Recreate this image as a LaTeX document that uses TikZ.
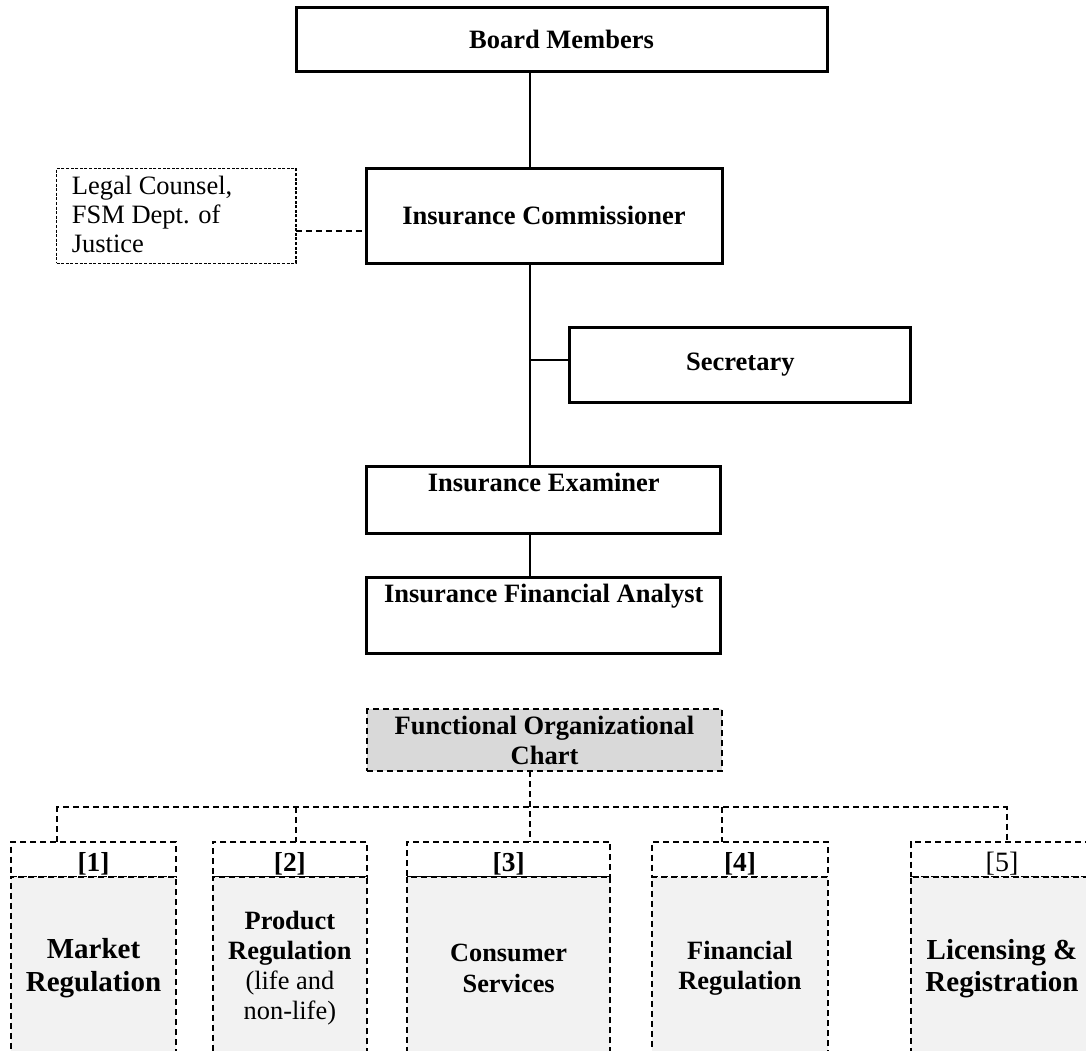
\documentclass[tikz,border=0pt]{standalone}
\usepackage{fontspec}
\setmainfont{Liberation Serif}
\definecolor{funcgray}{HTML}{D9D9D9}
\definecolor{bodygray}{HTML}{F2F2F2}
\begin{document}
\begin{tikzpicture}[x=1pt,y=-1pt,
  solidbox/.style={draw, line width=3pt, inner sep=0pt, outer sep=0pt},
  conn/.style={line width=2pt},
  dconn/.style={line width=2pt, dash pattern=on 6pt off 4pt},
  legalbox/.style={draw, line width=1.6pt, dash pattern=on 3pt off 1.6pt, inner sep=0pt, outer sep=0pt},
  bigfont/.style={font=\fontsize{26.5}{29.5}\selectfont\bfseries},
  headbox/.style={draw, fill=white, line width=1.8pt, dash pattern=on 6pt off 4pt, minimum height=35pt, inner sep=0pt, outer sep=0pt, text height=25pt, text depth=0pt},
  bodybox/.style={draw, fill=bodygray, line width=1.8pt, dash pattern=on 6pt off 4pt, minimum height=183.3pt, inner sep=0pt, outer sep=0pt, align=center},
  boldhead/.style={font=\fontsize{27.4}{30}\selectfont\bfseries},
  plainhead/.style={font=\fontsize{28}{30}\selectfont},
]
\useasboundingbox (0,0) rectangle (1086,1050);
\clip (0,0) rectangle (1086,1050);

% top chain
\node[solidbox, minimum width=531pt, minimum height=64.4pt, bigfont] (board) at (561.5,39.5) {Board Members};
\node[solidbox, minimum width=356pt, minimum height=95pt, bigfont] (comm) at (544,215.8) {Insurance Commissioner};
\node[legalbox, minimum width=239.3pt, minimum height=95pt] (legal) at (176.3,215.8) {};
\node[anchor=north west, font=\fontsize{26.5}{29}\selectfont, align=left, inner sep=0pt] (legalT) at ([xshift=15pt,yshift=-7.6pt]legal.north west) {Legal Counsel,\\FSM Dept. of\\Justice};
\node[solidbox, minimum width=340.7pt, minimum height=74.6pt, bigfont] (sec) at (740.3,365) {Secretary};
\node[solidbox, minimum width=354.3pt, minimum height=67.3pt] (exam) at (543.8,499.7) {};
\node[anchor=base, bigfont, inner sep=0pt] (examT) at ([yshift=-25.7pt]exam.north) {Insurance Examiner};
\node[solidbox, minimum width=354.3pt, minimum height=75.6pt] (anal) at (543.8,615.5) {};
\node[anchor=base, bigfont, inner sep=0pt] (analT) at ([yshift=-25pt]anal.north) {Insurance Financial Analyst};

\coordinate (tx) at (530,0);
\coordinate (secJ) at (530,360);
\coordinate (legY) at (0,231);
\draw[conn] (board.south -| tx) -- (comm.north -| tx);
\draw[conn] (comm.south -| tx) -- (exam.north -| tx);
\draw[conn] (exam.south -| tx) -- (anal.north -| tx);
\draw[conn] (secJ) -- (secJ -| sec.west);
\draw[dconn] (legal.east |- legY) -- (comm.west |- legY);

% functional chart
\node[draw, fill=funcgray, line width=1.8pt, dash pattern=on 6pt off 4pt, minimum width=355pt, minimum height=61.7pt, bigfont, align=center, inner sep=0pt, outer sep=0pt] (func) at (544.5,740.2) {Functional Organizational\\Chart};

% bottom boxes
\node[headbox, minimum width=165pt, boldhead] (h1) at (93.5,859.2) {[1]};
\node[bodybox, minimum width=165pt, font=\fontsize{29}{33.3}\selectfont\bfseries] (b1) at (93.5,968.35) {Market\\Regulation};
\node[headbox, minimum width=154.3pt, boldhead] (h2) at (289.85,859.2) {[2]};
\node[bodybox, minimum width=154.3pt, font=\fontsize{26.4}{30}\selectfont] (b2) at (289.85,968.35) {\textbf{Product}\\\textbf{Regulation}\\(life and\\non-life)};
\node[headbox, minimum width=203.3pt, boldhead] (h3) at (508.65,859.2) {[3]};
\node[bodybox, minimum width=203.3pt, font=\fontsize{26.3}{30.7}\selectfont\bfseries] (b3) at (508.65,968.35) {Consumer\\Services};
\node[headbox, minimum width=176pt, boldhead] (h4) at (740,859.2) {[4]};
\node[bodybox, minimum width=176pt, font=\fontsize{26.4}{30.7}\selectfont\bfseries] (b4) at (740,968.35) {Financial\\Regulation};
\node[headbox, minimum width=182.6pt, plainhead] (h5) at (1002,859.2) {[5]};
\node[bodybox, minimum width=182.6pt, font=\fontsize{29}{32.3}\selectfont\bfseries] (b5) at (1002,968.35) {Licensing \&\\Registration};

% dashed bus
\coordinate (busY) at (0,807.3);
\coordinate (d1) at (57.3,0);
\coordinate (d2) at (295.7,0);
\coordinate (d3) at (529.7,0);
\coordinate (d4) at (722,0);
\coordinate (d5) at (1006.7,0);
\draw[dconn] (d1 |- h1.north) -- (d1 |- busY) -- (d5 |- busY) -- (d5 |- h5.north);
\draw[dconn] (d2 |- busY) -- (d2 |- h2.north);
\draw[dconn] (func.south -| d3) -- (d3 |- h3.north);
\draw[dconn] (d4 |- busY) -- (d4 |- h4.north);
\end{tikzpicture}
\end{document}
